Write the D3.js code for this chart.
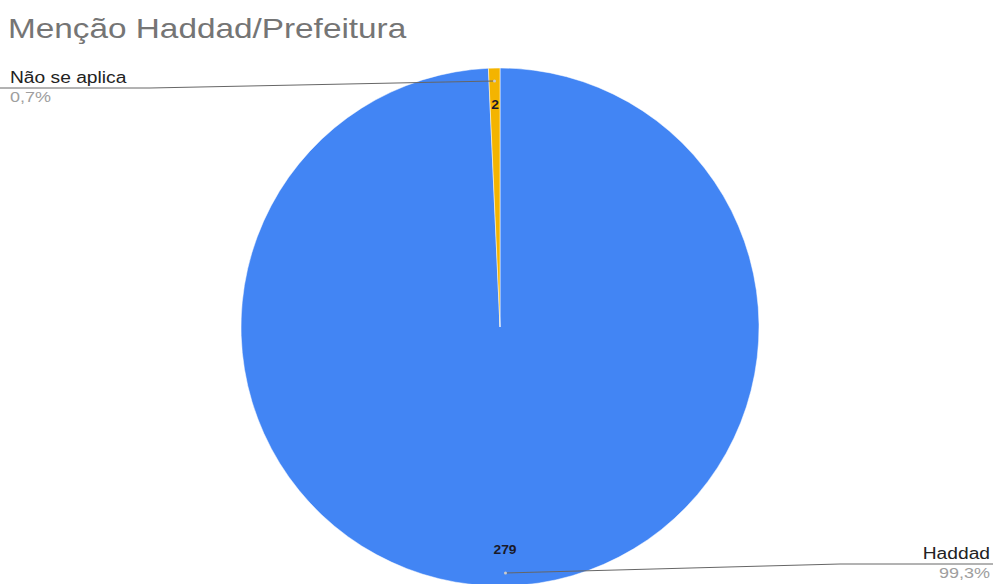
<!DOCTYPE html>
<html><head><meta charset="utf-8">
<script src="https://cdn.jsdelivr.net/npm/d3@7"></script>
<style>body{margin:0;background:#fff;}svg{display:block;font-family:Arial,"Liberation Sans",sans-serif;}</style>
</head><body>
<script>
const title = "Menção Haddad/Prefeitura";
const categories = ["Haddad", "Não se aplica"];
const values = [279, 2];
const percentLabels = ["99,3%", "0,7%"];
const colors = ["#4285f4", "#f4b400"];

const W = 993, H = 584;
const cx = 500, cy = 327, R = 259;
const svg = d3.select("body").append("svg").attr("width", W).attr("height", H);

function stretch(sel, k) {
  sel.each(function () {
    const len = this.getComputedTextLength();
    d3.select(this).attr("textLength", len * k).attr("lengthAdjust", "spacingAndGlyphs");
  });
  return sel;
}

stretch(svg.append("text").attr("x", 8).attr("y", 38).attr("font-size", 28).attr("fill", "#757575").text(title), 1.19);

const pie = d3.pie().sort(null).value(d => d.v);
const arcs = pie(categories.map((c, i) => ({c, v: values[i], p: percentLabels[i], col: colors[i]})));
const arc = d3.arc().innerRadius(0).outerRadius(R);
const g = svg.append("g").attr("transform", `translate(${cx},${cy})`);
g.selectAll("path").data(arcs).join("path").attr("d", arc).attr("fill", d => d.data.col)
  .attr("stroke", "#fff").attr("stroke-width", 0.5);

// value labels inside near edge
const inner = d3.arc().innerRadius(R * 0.86).outerRadius(R * 0.86);
stretch(g.selectAll("text.v").data(arcs).join("text").attr("class", "v")
  .attr("transform", d => { const [x, y] = inner.centroid(d); return `translate(${x},${y})`; })
  .attr("text-anchor", "middle").attr("dy", "0.35em").attr("font-size", 12).attr("font-weight", "bold")
  .attr("fill", "#1a1a2a").text(d => d.data.v), 1.15);

// leader lines & outside labels
const edge = d3.arc().innerRadius(R * 0.95).outerRadius(R * 0.95);
arcs.forEach(d => {
  const [ex, ey] = edge.centroid(d);
  const px = cx + ex, py = cy + ey;
  const left = (d.startAngle + d.endAngle) / 2 > Math.PI;
  const lx = left ? 10 : 990;
  const ly = left ? 88 : 564;
  const mid = left ? 150 : 840;
  svg.append("path").attr("d", `M${left ? 0 : 993},${ly}L${mid},${ly}L${px},${py}`)
    .attr("fill", "none").attr("stroke", "#666").attr("stroke-width", 1);
  svg.append("circle").attr("cx", px).attr("cy", py).attr("r", 1.5).attr("fill", "#ccc");
  stretch(svg.append("text").attr("x", lx).attr("y", ly - 5).attr("text-anchor", left ? "start" : "end")
    .attr("font-size", 16).attr("fill", "#222").text(d.data.c), 1.2);
  stretch(svg.append("text").attr("x", lx).attr("y", ly + 14).attr("text-anchor", left ? "start" : "end")
    .attr("font-size", 15).attr("fill", "#9e9e9e").text(d.data.p), 1.2);
});
</script>
</body></html>
